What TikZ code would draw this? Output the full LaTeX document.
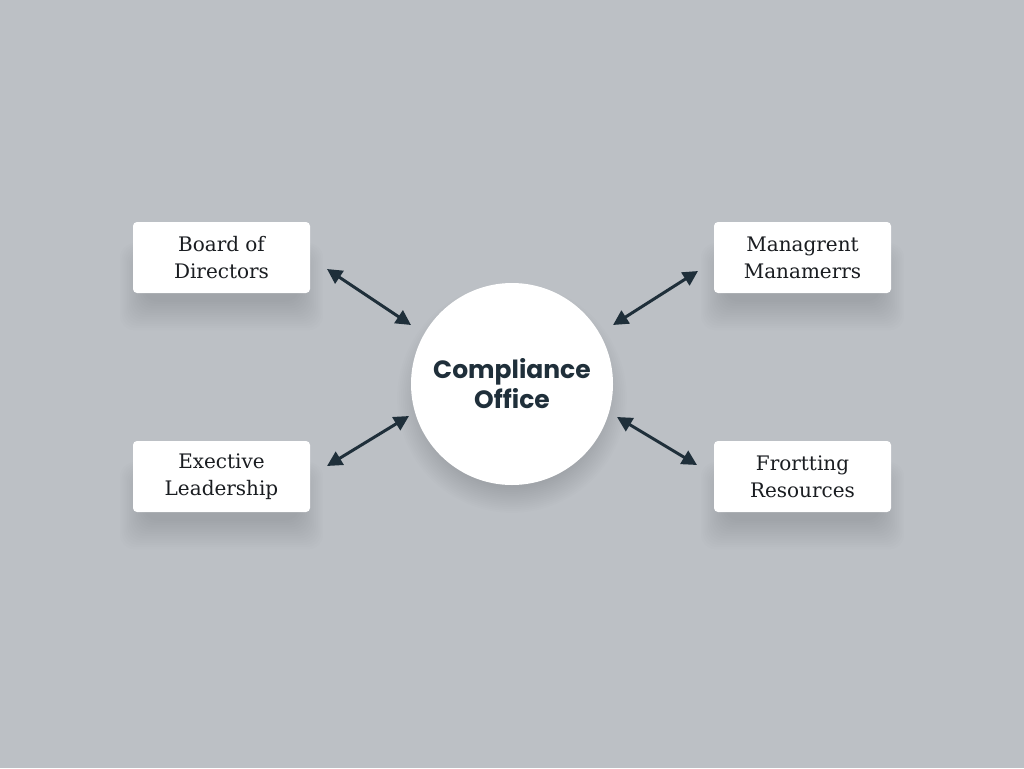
\documentclass[tikz,border=0pt]{standalone}
\usepackage{fontspec}
\newfontfamily\boxfont{DejaVu Serif}
\newfontfamily\centerfont{Poppins}
\usetikzlibrary{arrows.meta}
\definecolor{bg}{HTML}{BCC0C5}
\definecolor{ink}{HTML}{1A1D21}
\definecolor{navy}{HTML}{1F2F3A}
\definecolor{shade}{HTML}{6F7780}
\tikzset{
  rolebox/.style={draw=none, fill=white, rounded corners=4pt, minimum width=177pt, minimum height=71pt,
    align=center, text=ink, font=\boxfont\fontsize{20}{27}\selectfont},
  hub/.style={circle, fill=white, draw=none, minimum size=202pt, inner sep=0pt, align=center,
    text=navy, font=\centerfont\bfseries\fontsize{25}{30}\selectfont},
  link/.style={draw=navy, line width=3pt, {Triangle[length=15pt,width=15pt]}-{Triangle[length=15pt,width=15pt]}},
  shadowlayer/.style={fill=shade, fill opacity=0.022, draw=none}
}
\newcommand{\boxshadow}[2]{% center x, center y
  \foreach \k in {0,...,13}{
    \fill[shadowlayer, rounded corners=14pt]
      ({#1-78-1.8*\k},{#2+4-1.4*\k}) rectangle ({#1+78+1.8*\k},{#2+44+2.2*\k});
  }
}
\begin{document}
\begin{tikzpicture}[x=1pt,y=-1pt]
\fill[bg] (0,0) rectangle (1024,768);
\useasboundingbox (0,0) rectangle (1024,768);
% soft shadows
\boxshadow{221.5}{257.5}
\boxshadow{802.5}{257.5}
\boxshadow{221.5}{476.5}
\boxshadow{802.5}{476.5}
\foreach \k in {0,...,13}{
  \fill[shadowlayer] (512,398) circle ({90+1.9*\k});
}
\node[hub] (co) at (512,384) {Compliance\\Office};
\node[rolebox] (bod) at (221.5,257.5) {Board of\\Directors};
\node[rolebox] (mgmt) at (802.5,257.5) {Managrent\\Manamerrs};
\node[rolebox] (exec) at (221.5,476.5) {Exective\\Leadership};
\node[rolebox] (res) at (802.5,476.5) {Frortting\\Resources};
\coordinate (a1) at (327,269);
\coordinate (b1) at (411,325);
\coordinate (a2) at (698,271);
\coordinate (b2) at (613,325);
\coordinate (a3) at (327,466);
\coordinate (b3) at (409,416);
\coordinate (a4) at (697,465);
\coordinate (b4) at (617,417);
\draw[link] (a1) -- (b1);
\draw[link] (a2) -- (b2);
\draw[link] (a3) -- (b3);
\draw[link] (a4) -- (b4);
\end{tikzpicture}
\end{document}
